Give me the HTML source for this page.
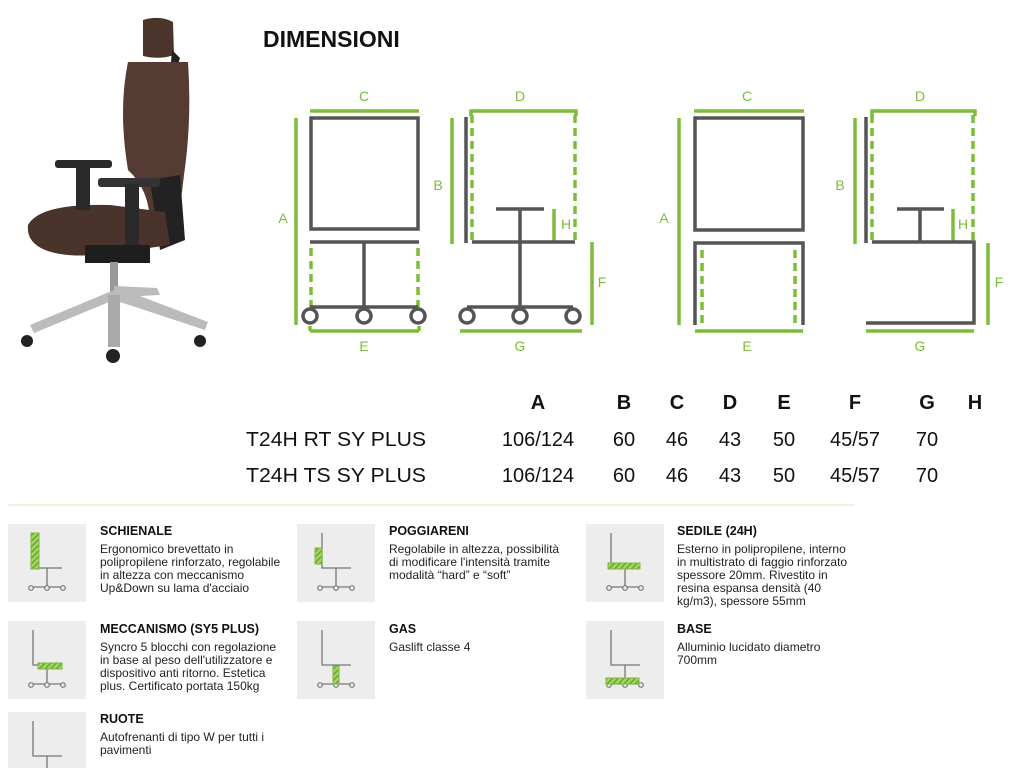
<!DOCTYPE html>
<html><head><meta charset="utf-8"><style>
html,body{margin:0;padding:0;background:#fff;}
body{width:1024px;height:768px;overflow:hidden;position:relative;font-family:"Liberation Sans",sans-serif;}
.t{position:absolute;font-size:12px;line-height:13px;color:#222;}
.t b{display:block;font-size:12.5px;margin-bottom:5px;color:#111;}
</style></head><body>
<svg width="1024" height="768" style="position:absolute;left:0;top:0" xmlns="http://www.w3.org/2000/svg">
<defs>
<pattern id="h" width="4" height="4" patternUnits="userSpaceOnUse" patternTransform="rotate(45)">
<rect width="4" height="4" fill="#a8d56a"/><rect width="1.6" height="4" fill="#6aa82e"/></pattern>
<g id="ic">
<rect width="78" height="78" fill="#ededed"/>
<path d="M25 9V44H54M39 44V63M22 63H56" stroke="#777" stroke-width="1.3" fill="none"/>
<circle cx="23" cy="64" r="2.3" fill="#ededed" stroke="#777" stroke-width="1.2"/>
<circle cx="39" cy="64" r="2.3" fill="#ededed" stroke="#777" stroke-width="1.2"/>
<circle cx="55" cy="64" r="2.3" fill="#ededed" stroke="#777" stroke-width="1.2"/>
</g>
</defs>
<!-- chair -->
<g>
<path d="M143 20 Q160 15 173 22 L174 55 Q160 60 143 56 Z" fill="#4a342c"/>
<path d="M172 50 L180 58 L178 64 L171 62Z" fill="#222"/>
<path d="M128 62 L188 62 Q192 120 184 175 L178 225 L150 225 Q150 190 128 170 Q118 110 128 62Z" fill="#553b31"/>
<path d="M150 180 L180 175 L185 240 L160 250Z" fill="#222"/>
<path d="M28 225 Q40 203 110 205 L165 212 L170 245 L120 252 Q70 260 45 250 Q26 242 28 225Z" fill="#4a332b"/>
<rect x="55" y="160" width="57" height="8" rx="3" fill="#2a2a2a"/>
<rect x="76" y="165" width="14" height="45" fill="#2a2a2a"/>
<rect x="98" y="178" width="62" height="9" rx="3" fill="#333"/>
<rect x="125" y="184" width="14" height="62" fill="#2a2a2a"/>
<rect x="85" y="245" width="65" height="18" fill="#1e1e1e"/>
<rect x="110" y="262" width="8" height="30" fill="#999"/>
<path d="M114 290 L30 325 L34 333 L114 300 L205 330 L208 322 L140 296 L160 295 L157 288 L114 286Z" fill="#bbb"/>
<rect x="108" y="295" width="12" height="52" fill="#aaa"/>
<circle cx="27" cy="341" r="6" fill="#222"/><circle cx="200" cy="341" r="6" fill="#222"/><circle cx="113" cy="356" r="7" fill="#222"/>
</g>
<text x="263" y="47" font-size="23" font-weight="bold" fill="#111" font-family="Liberation Sans">DIMENSIONI</text>
<g stroke="#7dbb3a" stroke-width="3.5" fill="none">
<path d="M310 111H419M296 118V325M310 331H419M310 326V331M419 326V331"/>
<path d="M311 248V307M418 248V307" stroke-dasharray="8 5"/>
<path d="M471 116V111H576V116M452 118V244M554 209V243M592 242V325M460 331H582"/>
<path d="M472 115V243M575 115V243" stroke-dasharray="8 5"/>
<path d="M694 111H804M679 118V325M695 331H803"/>
<path d="M702 250V328M795 250V328" stroke-dasharray="8 5"/>
<path d="M872 116V111H975V116M855 118V244M953 209V242M988 243V325M866 331H974"/>
<path d="M872 115V243M973 115V243" stroke-dasharray="8 5"/>
</g>
<g stroke="#555" stroke-width="3.5" fill="none">
<rect x="311" y="118" width="107" height="111"/>
<path d="M310 242H419M364 242V307M310 307H418"/>
<path d="M466 117V243M472 242H575M496 209H544M520 209V307M467 307H573"/>
<rect x="695" y="118" width="108" height="112"/>
<path d="M695 325V243H803V325"/>
<path d="M866 117V243M872 242H974V323H866M897 209H944M920 209V242"/>
</g>
<g stroke="#555" stroke-width="3.5" fill="#fff">
<circle cx="310" cy="316" r="7"/><circle cx="364" cy="316" r="7"/><circle cx="418" cy="316" r="7"/>
<circle cx="467" cy="316" r="7"/><circle cx="520" cy="316" r="7"/><circle cx="573" cy="316" r="7"/>
</g>
<g fill="#7dbb3a" font-size="14" font-family="Liberation Sans" text-anchor="middle">
<text x="364" y="101">C</text><text x="283" y="223">A</text><text x="364" y="351">E</text>
<text x="520" y="101">D</text><text x="438" y="190">B</text><text x="566" y="229">H</text><text x="602" y="287">F</text><text x="520" y="351">G</text>
<text x="747" y="101">C</text><text x="664" y="223">A</text><text x="747" y="351">E</text>
<text x="920" y="101">D</text><text x="840" y="190">B</text><text x="963" y="229">H</text><text x="999" y="287">F</text><text x="920" y="351">G</text>
</g>
<g font-family="Liberation Sans" font-size="20" fill="#111" text-anchor="middle">
<g font-weight="bold"><text x="538" y="409">A</text><text x="624" y="409">B</text><text x="677" y="409">C</text><text x="730" y="409">D</text><text x="784" y="409">E</text><text x="855" y="409">F</text><text x="927" y="409">G</text><text x="975" y="409">H</text></g>
<text x="538" y="446">106/124</text><text x="624" y="446">60</text><text x="677" y="446">46</text><text x="730" y="446">43</text><text x="784" y="446">50</text><text x="855" y="446">45/57</text><text x="927" y="446">70</text>
<text x="538" y="482">106/124</text><text x="624" y="482">60</text><text x="677" y="482">46</text><text x="730" y="482">43</text><text x="784" y="482">50</text><text x="855" y="482">45/57</text><text x="927" y="482">70</text>
<text x="246" y="446" text-anchor="start" textLength="180" lengthAdjust="spacingAndGlyphs">T24H RT SY PLUS</text>
<text x="246" y="482" text-anchor="start" textLength="180" lengthAdjust="spacingAndGlyphs">T24H TS SY PLUS</text>
</g>
<line x1="8" y1="505" x2="855" y2="505" stroke="#f3f1dc" stroke-width="2"/>
<use href="#ic" x="8" y="524"/><rect x="31" y="533" width="8" height="36" fill="url(#h)" stroke="#7dbb3a"/>
<use href="#ic" x="8" y="621"/><rect x="38" y="663" width="24" height="6" fill="url(#h)" stroke="#7dbb3a"/>
<use href="#ic" x="8" y="712"/>
<use href="#ic" x="297" y="524"/><rect x="315" y="548" width="7" height="16" fill="url(#h)" stroke="#7dbb3a"/>
<use href="#ic" x="297" y="621"/><rect x="333" y="666" width="6" height="18" fill="url(#h)" stroke="#7dbb3a"/>
<use href="#ic" x="586" y="524"/><rect x="608" y="563" width="32" height="6" fill="url(#h)" stroke="#7dbb3a"/>
<use href="#ic" x="586" y="621"/><rect x="606" y="678" width="33" height="6" fill="url(#h)" stroke="#7dbb3a"/>
</svg>
<div class="t" style="left:100px;top:525px;width:182px"><b>SCHIENALE</b>Ergonomico brevettato in<br>polipropilene rinforzato, regolabile<br>in altezza con meccanismo<br>Up&amp;Down su lama d'acciaio</div>
<div class="t" style="left:100px;top:623px;width:182px"><b>MECCANISMO (SY5 PLUS)</b>Syncro 5 blocchi con regolazione<br>in base al peso dell'utilizzatore e<br>dispositivo anti ritorno. Estetica<br>plus. Certificato portata 150kg</div>
<div class="t" style="left:100px;top:713px;width:182px"><b>RUOTE</b>Autofrenanti di tipo W per tutti i<br>pavimenti</div>
<div class="t" style="left:389px;top:525px;width:182px"><b>POGGIARENI</b>Regolabile in altezza, possibilità<br>di modificare l'intensità tramite<br>modalità “hard” e “soft”</div>
<div class="t" style="left:389px;top:623px;width:182px"><b>GAS</b>Gaslift classe 4</div>
<div class="t" style="left:677px;top:525px;width:182px"><b>SEDILE (24H)</b>Esterno in polipropilene, interno<br>in multistrato di faggio rinforzato<br>spessore 20mm. Rivestito in<br>resina espansa densità (40<br>kg/m3), spessore 55mm</div>
<div class="t" style="left:677px;top:623px;width:182px"><b>BASE</b>Alluminio lucidato diametro<br>700mm</div>
</body></html>
